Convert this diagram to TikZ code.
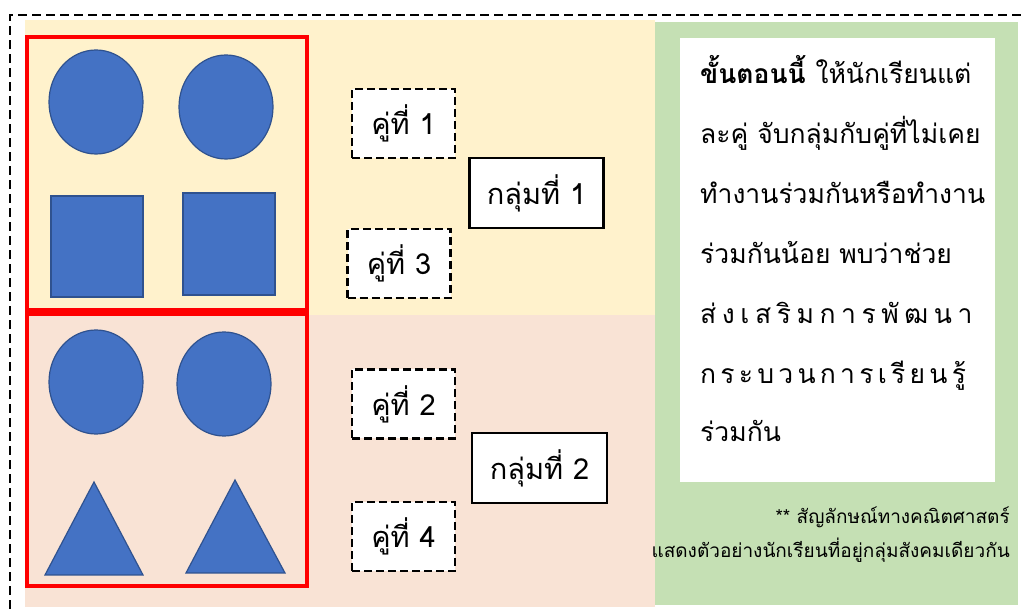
\documentclass[tikz,border=0pt]{standalone}
\usepackage{fontspec}
\newfontfamily\thai[Script=Thai]{Loma}
\definecolor{bgyellow}{HTML}{FFF2CC}
\definecolor{bgpink}{HTML}{F9E3D5}
\definecolor{bggreen}{HTML}{C5E0B4}
\definecolor{shapeblue}{HTML}{4472C4}
\definecolor{shapeedge}{HTML}{2F528F}
\tikzset{
  shp/.style={fill=shapeblue, draw=shapeedge, line width=1.2pt},
  pairbox/.style={draw=black, dash pattern=on 8pt off 4pt, line width=2.6pt, fill=white, minimum width=103pt, minimum height=69pt, font=\thai\fontsize{29}{34}\selectfont, inner sep=0pt},
  groupbox/.style={draw=black, line width=2.2pt, fill=white, minimum width=134pt, minimum height=70pt, font=\thai\fontsize{29}{34}\selectfont, inner sep=0pt},
  redbox/.style={draw=red, line width=3.5pt},
  bodytxt/.style={anchor=base west, inner sep=0pt, font=\thai\fontsize{26.5}{32}\selectfont},
  notetxt/.style={anchor=base east, inner sep=0pt, font=\thai\fontsize{19}{22}\selectfont}
}
\begin{document}
\begin{tikzpicture}[x=1pt,y=-1pt]
\useasboundingbox (0,0) rectangle (1021,609);
\fill[white] (0,0) rectangle (1021,609);
% backgrounds
\fill[bgyellow] (25,20) rectangle (655,315);
\fill[bgpink] (25,315) rectangle (655,607);
\fill[bggreen] (655,22) rectangle (1018,605);
\fill[white] (680,38) rectangle (995,482);
% outer dashed border
\draw[line width=2.8pt, dash pattern=on 9pt off 5pt] (10,609) -- (10,15) -- (1021,15);
% red frames
\draw[redbox] (27,37) rectangle (307,310);
\draw[redbox] (27,314) rectangle (307,586);
% shapes top
\draw[shp] (96,102) ellipse [x radius=47, y radius=52];
\draw[shp] (226,107) ellipse [x radius=47, y radius=52];
\draw[shp] (51,196) rectangle (143,297);
\draw[shp] (183,193) rectangle (275,295);
% shapes bottom
\draw[shp] (96,382) ellipse [x radius=47, y radius=52];
\draw[shp] (224,384) ellipse [x radius=47, y radius=52];
\draw[shp] (94,482) -- (143,575) -- (45,575) -- cycle;
\draw[shp] (235,480) -- (285,573) -- (186,573) -- cycle;
% pair and group boxes
\node[pairbox] (p1) at (403.5,123.5) {คู่ที่ 1};
\node[pairbox] (p3) at (399,263.5) {คู่ที่ 3};
\node[groupbox] (g1) at (536.5,193) {กลุ่มที่ 1};
\node[pairbox] (p2) at (403.5,404) {คู่ที่ 2};
\node[pairbox] (p4) at (403.5,536.5) {คู่ที่ 4};
\node[groupbox, minimum width=135pt] (g2) at (539.5,468) {กลุ่มที่ 2};
% body text
\node[bodytxt] (t1) at (700,84) {\textbf{ขั้นตอนนี้} ให้นักเรียนแต่};
\node[bodytxt] (t2) at (700,144) {ละคู่ จับกลุ่มกับคู่ที่ไม่เคย};
\node[bodytxt] (t3) at (700,204) {ทำงานร่วมกันหรือทำงาน};
\node[bodytxt] (t4) at (700,264) {ร่วมกันน้อย พบว่าช่วย};
\node[bodytxt] (t5) at (700,324) {\addfontfeature{LetterSpace=21}ส่งเสริมการพัฒนา};
\node[bodytxt] (t6) at (700,384) {\addfontfeature{LetterSpace=16}กระบวนการเรียนรู้};
\node[bodytxt] (t7) at (700,442) {ร่วมกัน};
% note
\node[notetxt] (n1) at (1010,524) {** สัญลักษณ์ทางคณิตศาสตร์};
\node[notetxt] (n2) at (1010,558) {แสดงตัวอย่างนักเรียนที่อยู่กลุ่มสังคมเดียวกัน};
\end{tikzpicture}
\end{document}
